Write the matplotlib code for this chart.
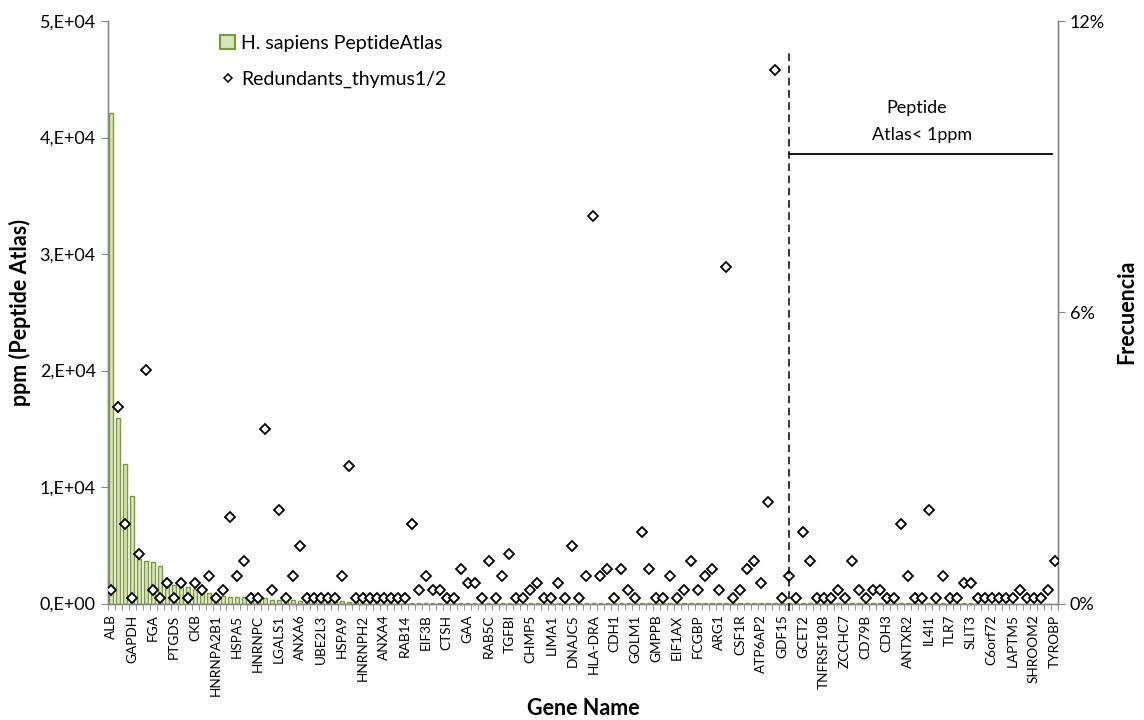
import numpy as np
import matplotlib
matplotlib.use("Agg")
import matplotlib.pyplot as plt
from matplotlib.lines import Line2D
from matplotlib.patches import Patch

plt.rcParams['font.family'] = ['Lato', 'DejaVu Sans']

# ---------------- data ----------------
gene_labels = ["ALB", "GAPDH", "FGA", "PTGDS", "CKB", "HNRNPA2B1", "HSPA5", "HNRNPC",
               "LGALS1", "ANXA6", "UBE2L3", "HSPA9", "HNRNPH2", "ANXA4", "RAB14", "EIF3B",
               "CTSH", "GAA", "RAB5C", "TGFBI", "CHMP5", "LIMA1", "DNAJC5", "HLA-DRA",
               "CDH1", "GOLM1", "GMPPB", "EIF1AX", "FCGBP", "ARG1", "CSF1R", "ATP6AP2",
               "GDF15", "GCET2", "TNFRSF10B", "ZCCHC7", "CD79B", "CDH3", "ANTXR2", "IL4I1",
               "TLR7", "SLIT3", "C6orf72", "LAPTM5", "SHROOM2", "TYROBP"]

# ppm (Peptide Atlas), one value per category (136 categories)
ppm_atlas = [42100, 15900, 11950, 9250, 3800, 3690, 3580, 3230, 1660, 1600,
             1490, 1430, 1260, 940, 860, 630, 630, 520, 520, 520,
             520, 430, 430, 290, 290, 290, 290, 250, 240, 230,
             220, 200, 190, 180, 120, 110, 100, 95, 90, 85,
             80, 75, 70, 68, 65, 62, 60, 58, 55, 52,
             50, 48, 46, 44, 42, 40, 38, 36, 35, 34,
             33, 32, 31, 30, 29, 28, 27, 26, 25, 24,
             23, 22, 21, 20, 19, 18, 17, 16, 15, 14,
             13, 12, 11, 10, 9, 8, 7, 6, 5, 5,
             4, 4, 3, 3, 2, 2, 2, 1.5, 0.9, 0.9,
             0.8, 0.8, 0.8, 0.7, 0.7, 0.7, 0.6, 0.6, 0.6, 0.5,
             0.5, 0.5, 0.5, 0.4, 0.4, 0.4, 0.4, 0.3, 0.3, 0.3,
             0.3, 0.2, 0.2, 0.2, 0.2, 0, 0, 0, 0, 0,
             0, 0, 0, 0, 0, 0]

# Frecuencia (%) Redundants_thymus1/2
freq_pct = [0.27, 4.05, 1.63, 0.12, 1.03, 4.81, 0.27, 0.12, 0.42, 0.12,
            0.42, 0.12, 0.42, 0.27, 0.57, 0.12, 0.27, 1.78, 0.57, 0.88,
            0.12, 0.12, 3.60, 0.27, 1.93, 0.12, 0.57, 1.18, 0.12, 0.12,
            0.12, 0.12, 0.12, 0.57, 2.84, 0.12, 0.12, 0.12, 0.12, 0.12,
            0.12, 0.12, 0.12, 1.63, 0.27, 0.57, 0.27, 0.27, 0.12, 0.12,
            0.72, 0.42, 0.42, 0.12, 0.88, 0.12, 0.57, 1.03, 0.12, 0.12,
            0.27, 0.42, 0.12, 0.12, 0.42, 0.12, 1.18, 0.12, 0.57, 7.98,
            0.57, 0.72, 0.12, 0.72, 0.27, 0.12, 1.48, 0.72, 0.12, 0.12,
            0.57, 0.12, 0.27, 0.88, 0.27, 0.57, 0.72, 0.27, 6.93, 0.12,
            0.27, 0.72, 0.88, 0.42, 2.09, 11.0, 0.12, 0.57, 0.12, 1.48,
            0.88, 0.12, 0.12, 0.12, 0.27, 0.12, 0.88, 0.27, 0.12, 0.27,
            0.27, 0.12, 0.12, 1.63, 0.57, 0.12, 0.12, 1.93, 0.12, 0.57,
            0.12, 0.12, 0.42, 0.42, 0.12, 0.12, 0.12, 0.12, 0.12, 0.12,
            0.27, 0.12, 0.12, 0.12, 0.27, 0.88]

ppm_ticks = [0, 10000, 20000, 30000, 40000, 50000]
ppm_ticklabels = ["0,E+00", "1,E+04", "2,E+04", "3,E+04", "4,E+04", "5,E+04"]
pct_ticks = [0, 6, 12]
pct_ticklabels = ["0%", "6%", "12%"]

cutoff_pos = 97.05          # category position of the <1 ppm cut-off
cutoff_top_pct = 11.4
annot_line_pct = 9.26
annot_line_end = 134.7

# ---------------- figure ----------------
fig = plt.figure(figsize=(11.44, 7.2), dpi=100)
W, H = 1144, 720
left_px, right_px, top_px, bot_px = 107.7, 1058, 21, 603.5
ax = fig.add_axes([left_px / W, 1 - bot_px / H, (right_px - left_px) / W, (bot_px - top_px) / H])
ax2 = ax.twinx()

n = len(ppm_atlas)
x = np.arange(n)
ppm_arr = np.array(ppm_atlas, dtype=float)
mask = ppm_arr > 0

axis_gray = "#868686"
bar_fill = "#d7e4bd"
bar_edge = "#7a9a3c"

ax.bar(x[mask], ppm_arr[mask], width=0.5, color=bar_fill, edgecolor=bar_edge,
       linewidth=1.0, zorder=2)
ax.set_xlim(-0.5, n - 0.5)
ax.set_ylim(0, 50000)
ax.set_yticks(ppm_ticks)
ax.set_yticklabels(ppm_ticklabels, fontsize=13, color="black")

ax2.plot(x, freq_pct, linestyle="none", marker="D", markersize=4.6,
         markerfacecolor="white", markeredgecolor="black", markeredgewidth=1.3, zorder=3)
ax2.set_ylim(0, 12)
ax2.set_yticks(pct_ticks)
ax2.set_yticklabels(pct_ticklabels, fontsize=13)

# x ticks: minor at each boundary, labels every third category
ax.set_xticks(np.arange(0, n, 3))
ax.set_xticklabels(gene_labels, rotation=90, fontsize=9.8)
ax.set_xticks(np.arange(-0.5, n, 1), minor=True)
ax.tick_params(axis="x", which="major", length=0, pad=8)
ax.tick_params(axis="x", which="minor", length=4, color=axis_gray, direction="out")
ax.tick_params(axis="y", length=5, color=axis_gray, direction="out")
ax2.tick_params(axis="y", length=5, color=axis_gray, direction="out")

for a in (ax, ax2):
    a.spines["top"].set_visible(False)
    for s in ("left", "right", "bottom"):
        a.spines[s].set_color(axis_gray)
        a.spines[s].set_linewidth(1.0)

ax.set_ylabel("ppm (Peptide Atlas)", fontsize=15.5, fontweight="bold", labelpad=6)
fig.text(1127 / W, 1 - 312 / H, "Frecuencia", rotation=90, ha="center", va="center",
         fontsize=15.5, fontweight="bold")
ax.set_xlabel("Gene Name", fontsize=15.5, fontweight="bold", labelpad=1)

# cut-off annotation
ax2.plot([cutoff_pos, cutoff_pos], [-0.15, cutoff_top_pct], color="black", linestyle=(0, (5, 3)),
         linewidth=1.1, clip_on=False, zorder=4)
ax2.plot([cutoff_pos, annot_line_end], [annot_line_pct, annot_line_pct], color="black",
         linewidth=1.3, zorder=4)
ax2.text(115.3, 10.21, "Peptide", ha="center", va="center", fontsize=13)
ax2.text(116.1, 9.65, "Atlas< 1ppm", ha="center", va="center", fontsize=13)

# legend
handles = [Patch(facecolor=bar_fill, edgecolor=bar_edge, linewidth=1.5),
           Line2D([], [], linestyle="none", marker="D", markersize=3.6, markerfacecolor="white",
                  markeredgecolor="black", markeredgewidth=1.1)]
fig.legend(handles, ["H. sapiens PeptideAtlas", "Redundants_thymus1/2"],
           loc="upper left", bbox_to_anchor=(212 / W, 1 - 27 / H), frameon=False,
           fontsize=14, labelspacing=1.0, handlelength=0.8, handletextpad=0.3,
           borderaxespad=0)

fig.savefig("out.png", dpi=100)
